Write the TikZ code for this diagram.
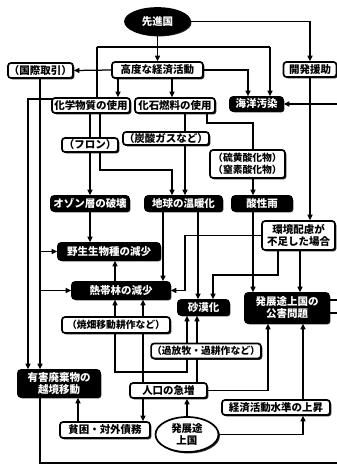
\documentclass[tikz,border=0pt]{standalone}
\usepackage{fontspec}
\newfontfamily\jp{Noto Sans CJK JP}
\usetikzlibrary{arrows.meta,shapes.geometric,shadows}
\pgfdeclarelayer{bg}
\pgfsetlayers{bg,main}
\begin{document}
\begin{tikzpicture}[x=1pt,y=-1pt,
  base/.style={font=\jp\bfseries\fontsize{10.5}{12}\selectfont, inner sep=1pt, align=center,
    line width=1.7pt, rounded corners=3pt,
    drop shadow={shadow xshift=1.4pt,shadow yshift=-1.4pt,fill=black,opacity=0.85}},
  wbox/.style={base, draw=black, fill=white, text=black},
  bbox/.style={base, draw=black, fill=black, text=white},
  small/.style={font=\jp\bfseries\fontsize{9.8}{12}\selectfont},
  arr/.style={line width=1.25pt, -{Triangle[length=5.5pt,width=5pt]}},
  ln/.style={line width=1.25pt},
]
\useasboundingbox (0,0) rectangle (337,467);

% nodes
\node[bbox,ellipse,minimum width=65pt,minimum height=27pt] (senshin) at (157.5,21.5) {先進国};
\node[wbox,minimum width=65pt,minimum height=15pt] (kokusai) at (40.5,70.5) {（国際取引）};
\node[wbox,minimum width=91pt,minimum height=16pt] (kodo) at (157.5,70) {高度な経済活動};
\node[wbox,minimum width=53pt,minimum height=15pt] (kaihatsu) at (310,69.5) {開発援助};
\node[wbox,minimum width=78pt,minimum height=15pt] (kagaku) at (91,105.5) {化学物質の使用};
\node[wbox,minimum width=80pt,minimum height=15pt] (kaseki) at (175,105.5) {化石燃料の使用};
\node[bbox,minimum width=53pt,minimum height=14pt] (kaiyo) at (256.5,104) {海洋汚染};
\node[wbox,minimum width=56pt,minimum height=14pt] (furon) at (90,145) {（フロン）};
\node[wbox,minimum width=82pt,minimum height=13pt] (tansan) at (166,138.5) {（炭酸ガスなど）};
\node[wbox,small,minimum width=75pt,minimum height=28pt] (iou) at (247.5,164) {（硫黄酸化物）\\（窒素酸化物）};
\node[bbox,minimum width=78pt,minimum height=15pt] (ozon) at (90,203.5) {オゾン層の破壊};
\node[bbox,minimum width=77pt,minimum height=15pt] (ondan) at (183.5,203.5) {地球の温暖化};
\node[bbox,minimum width=60pt,minimum height=15pt] (sanseiu) at (262,203.5) {酸性雨};
\node[wbox,minimum width=73pt,minimum height=29pt] (hairyo) at (298.5,235.5) {環境配慮が\\不足した場合};
\node[bbox,minimum width=102pt,minimum height=17pt] (yasei) at (109,251.5) {野生生物種の減少};
\node[bbox,minimum width=98pt,minimum height=17pt] (nettai) at (121,290.5) {熱帯林の減少};
\node[bbox,minimum width=51pt,minimum height=15pt] (sabaku) at (203.5,307.5) {砂漠化};
\node[bbox,minimum width=84pt,minimum height=30pt] (kogai) at (287,308) {発展途上国の\\公害問題};
\node[wbox,small,minimum width=108pt,minimum height=16pt] (yakihata) at (116,325) {（焼畑移動耕作など）};
\node[wbox,small,minimum width=108pt,minimum height=15pt] (kahoboku) at (206,351) {（過放牧・過耕作など）};
\node[bbox,minimum width=82pt,minimum height=27pt] (yugai) at (59,383.5) {有害廃棄物の\\越境移動};
\node[wbox,minimum width=77pt,minimum height=15pt] (jinko) at (168.5,390.5) {人口の急増};
\node[wbox,minimum width=108pt,minimum height=15pt] (keizai) at (276,407.5) {経済活動水準の上昇};
\node[wbox,minimum width=90pt,minimum height=16pt] (hinkon) at (105,430) {貧困・対外債務};
\node[wbox,ellipse,minimum width=63pt,minimum height=35pt] (hatten) at (187,434.5) {発展途\\上国};

\coordinate (rin) at (337,104);
\coordinate (r1) at (337,300);
\coordinate (r2) at (337,313);
\coordinate (r3) at (337,463);

\begin{pgfonlayer}{bg}
\fill[white] (0,0) rectangle (337,467);
\draw[arr] (senshin) -- (kodo);
\draw[ln] (97,47) -- (270,47);
\draw[arr] (270,47) -- (270,0 |- kaiyo.north);
\draw[arr] (97,47) -- (97,99) -- (28,99) -- (28,0 |- yugai.north);
\draw[arr] (senshin.east) -| (kaihatsu.north);
\draw[arr] (kodo.west) -- (kokusai.east);
\draw[arr] (118,0 |- kodo.south) -- (118,0 |- kagaku.north);
\draw[arr] (172,0 |- kodo.south) -- (172,0 |- kaseki.north);
\draw[arr] (kodo.east) -- (248,0 |- kodo.east) -- (248,0 |- kaiyo.north);
\draw[arr] (rin) -- (kaiyo.east);
\draw[arr] (40,0 |- kokusai.south) -- (40,0 |- yugai.north);
\draw[arr] (40,0 |- yasei.west) -- (yasei.west);
\draw[arr] (40,0 |- nettai.west) -- (nettai.west);
\draw[ln] (kagaku.south -| furon) -- (furon);
\draw[arr] (furon) -- (ozon);
\draw[arr] (100,0 |- kagaku.south) -- (100,170) -- (172,170) -- (172,0 |- ondan.north);
\draw[arr] (185,0 |- kaseki.south) -- (185,0 |- ondan.north);
\draw[ln] (207,0 |- kaseki.south) -- (207,123) -- (253,123) -- (253,0 |- iou.north);
\draw[arr] (253,0 |- iou.south) -- (253,0 |- sanseiu.north);
\draw[arr] (kaihatsu) -- (kaihatsu |- hairyo.north);
\draw[arr] (hairyo.west) -- (185,0 |- hairyo.west) -- (185,0 |- nettai.east) -- (nettai.east);
\draw[arr] (278,0 |- hairyo.south) -- (278,275) -- (213,275) -- (213,0 |- sabaku.north);
\draw[arr] (300,0 |- hairyo.south) -- (300,0 |- kogai.north);
\draw[arr] (198,0 |- ondan.south) -- (198,0 |- sabaku.north);
\draw[arr] (163,0 |- ondan.south) -- (163,0 |- nettai.north);
\draw[arr] (253,0 |- sanseiu.south) -- (253,0 |- kogai.north);
\draw[arr] (ozon) -- (ozon |- yasei.north);
\draw[arr] (115,0 |- nettai.north) -- (115,0 |- yasei.south);
\draw[arr] (115,0 |- yakihata.north) -- (115,0 |- nettai.south);
\draw[arr] (143,0 |- jinko.north) -- (143,0 |- nettai.south);
\draw[arr] (115,0 |- yakihata.south) -- (115,372) -- (187,372) -- (187,0 |- sabaku.south);
\draw[arr] (197,0 |- jinko.north) -- (197,0 |- sabaku.south);
\draw[arr] (143,0 |- jinko.south) -- (143,0 |- hinkon.north);
\draw[arr] (hatten) -- (hatten |- jinko.south);
\draw[arr] (hatten.east) -- (303,0 |- hatten.east) -- (303,0 |- keizai.south);
\draw[arr] (303,0 |- keizai.north) -- (303,0 |- kogai.south);
\draw[arr] (jinko.east) -- (268,0 |- jinko.east) -- (268,0 |- kogai.south);
\draw[arr] (78,0 |- hinkon.north) -- (78,0 |- yugai.south);
\draw[ln] (kogai.east |- r1) -- (r1);
\draw[ln] (kogai.east |- r2) -- (r2);
\draw[ln] (40,0 |- yugai.south) -- (40,463) -- (r3);
\end{pgfonlayer}
\end{tikzpicture}
\end{document}
